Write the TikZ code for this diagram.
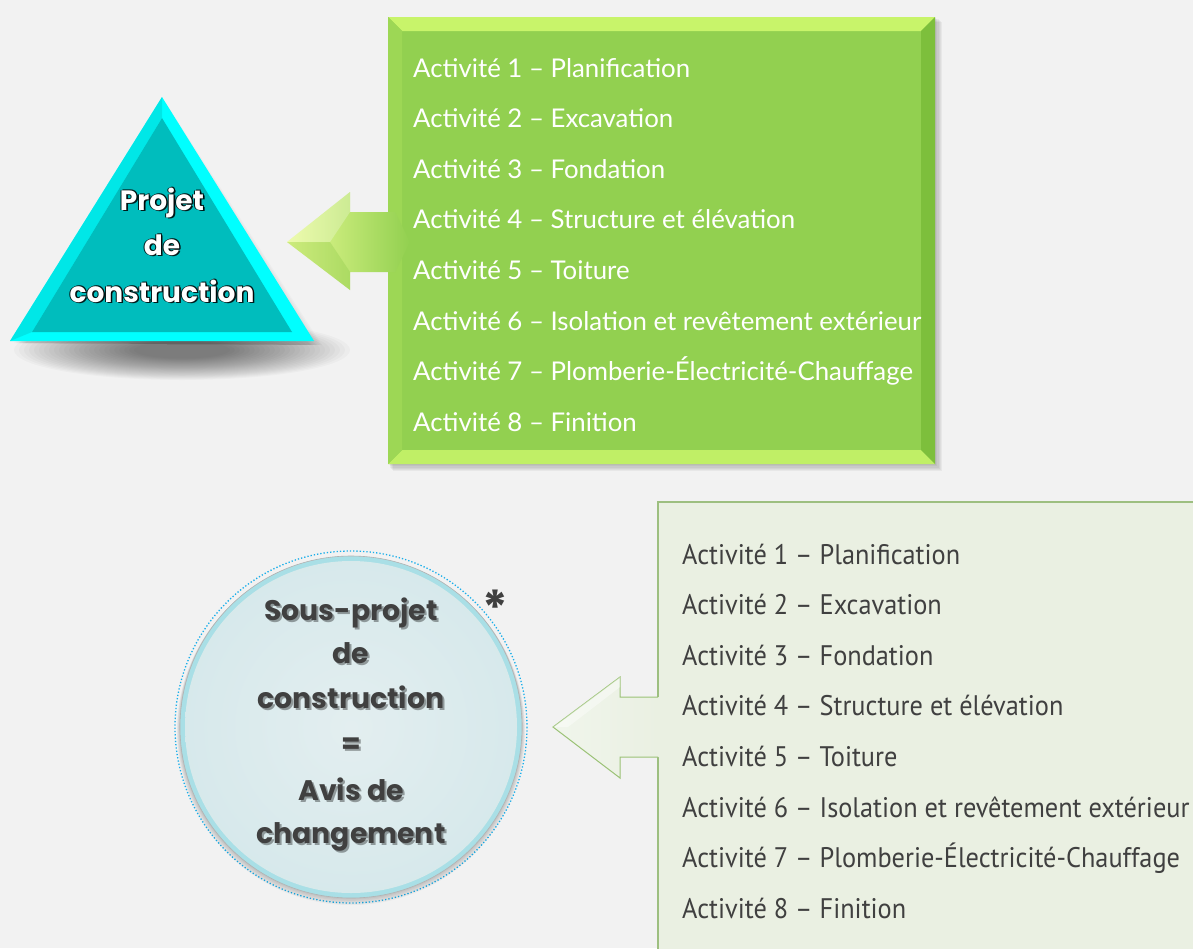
\documentclass[tikz,border=0pt]{standalone}
\usepackage{fontspec}
\newfontfamily\gothic{Poppins}
\newfontfamily\lista{Lato}
\newfontfamily\listb[FakeStretch=0.93]{PT Sans}
\definecolor{bg}{HTML}{F2F2F2}
\definecolor{teal1}{HTML}{00BDBD}
\definecolor{cyan1}{HTML}{00FFFF}
\definecolor{green1}{HTML}{92D050}
\definecolor{green2}{HTML}{C8F46A}
\definecolor{green3}{HTML}{7DBF3C}
\definecolor{pale}{HTML}{EAF0E2}
\definecolor{paleline}{HTML}{9DBF80}
\definecolor{circfill}{HTML}{DCEAEC}
\definecolor{circedge}{HTML}{A9DFE6}
\definecolor{dotblue}{HTML}{1AAEEA}
\definecolor{dark}{HTML}{404040}
\tikzset{
  toplist/.style={anchor=base west, inner sep=0pt, text=white, font=\lista\fontsize{25.8}{28}\selectfont},
  botlist/.style={anchor=base west, inner sep=0pt, text=dark, font=\listb\fontsize{28.3}{30}\selectfont},
  tritext/.style={anchor=base, inner sep=0pt, text=white, font=\gothic\bfseries\fontsize{28}{30}\selectfont},
  trishadow/.style={tritext, text=black, opacity=0.85},
  circtext/.style={anchor=base, inner sep=0pt, text=dark, font=\gothic\bfseries\fontsize{28.3}{30}\selectfont},
  circshadow/.style={circtext, text=black, opacity=0.35},
}
\begin{document}
\begin{tikzpicture}[x=1pt,y=-1pt]
\useasboundingbox (0,0) rectangle (1193,948);
\fill[bg] (0,0) rectangle (1193,948);

% ---------- top green box ----------
\foreach \i in {1,...,6} {
  \fill[black, opacity=0.045] (388+\i*0.8,17+\i*0.8) rectangle (935+\i*1.2,464+\i*1.2);
}
\fill[green1] (388,17) rectangle (935,464);
\fill[green2] (388,17) -- (935,17) -- (921,31) -- (402,31) -- cycle;
\fill[green2!85!green1] (388,464) -- (935,464) -- (921,450) -- (402,450) -- cycle;
\fill[green1!80!green2] (388,17) -- (402,31) -- (402,450) -- (388,464) -- cycle;
\fill[green3] (935,17) -- (921,31) -- (921,450) -- (935,464) -- cycle;
\coordinate (topbox) at (388,242);

% ---------- top arrow ----------
\path[left color=green2!70!yellow!60!white, right color=green1, draw=none]
  (287,242) -- (350,192) -- (350,212) -- (395,212) -- (410,242) -- (395,272) -- (350,272) -- (350,290) -- cycle;
\fill[white, opacity=0.25] (287,242) -- (350,192) -- (350,212) -- (330,242) -- cycle;
\fill[green3, opacity=0.25] (287,242) -- (330,242) -- (350,272) -- (350,290) -- cycle;

% ---------- triangle ----------
\foreach \i in {0,...,24} {
  \fill[black, opacity=0.022] (182,350) ellipse[x radius={168-\i*5}, y radius={30-\i*0.9}];
}
\foreach \i in {0,...,8} {
  \fill[black, opacity=0.02] (14+\i*1.5,343) -- (166,103+\i*1.5) -- (322-\i*1.5,345) -- cycle;
}
\fill[cyan1] (10,341) -- (162,97) -- (314,341) -- cycle;
\fill[teal1] (32,332) -- (162,118) -- (292,332) -- cycle;
\fill[teal1!70!cyan1, opacity=0.5] (10,341) -- (162,97) -- (162,118) -- (32,332) -- cycle;
\coordinate (tri) at (160,240);

\foreach \t/\y/\n in {Projet/210/a, de/255/b, construction/302/c} {
  \node[trishadow] (ts1\n) at (163.6,\y+1.6) {\t};
  \node[trishadow] (ts2\n) at (161,\y+0.8) {\t};
  \node[trishadow] (ts3\n) at (163,\y-0.8) {\t};
  \node[tritext] (tt\n) at (162,\y) {\t};
}

% top list
\node[toplist] (l1) at (413,77) {Activité 1 – Planification};
\node[toplist] (l2) at (413,127.6) {Activité 2 – Excavation};
\node[toplist] (l3) at (413,178.2) {Activité 3 – Fondation};
\node[toplist] (l4) at (413,228.8) {Activité 4 – Structure et élévation};
\node[toplist] (l5) at (413,279.4) {Activité 5 – Toiture};
\node[toplist] (l6) at (413,330) {Activité 6 – Isolation et revêtement extérieur};
\node[toplist] (l7) at (413,380.6) {Activité 7 – Plomberie-Électricité-Chauffage};
\node[toplist] (l8) at (413,431.2) {Activité 8 – Finition};

% ---------- bottom box ----------
\foreach \i in {1,...,4} {
  \fill[black, opacity=0.035] (658+\i*0.8,502+\i*0.8) rectangle (1210,960);
}
\fill[pale] (658,502) rectangle (1210,960);
\draw[paleline, line width=1.6pt] (1210,502) -- (658,502) -- (658,960);

% ---------- bottom arrow ----------
\path[left color=white!85!paleline, right color=pale]
  (553,727) -- (620,677) -- (620,697) -- (659,697) -- (659,757) -- (620,757) -- (620,778) -- cycle;
\draw[paleline!80!green1, line width=1pt, line join=miter]
  (658,697) -- (620,697) -- (620,677) -- (553,727) -- (620,778) -- (620,757) -- (658,757);
\fill[white, opacity=0.4] (553,727) -- (620,677) -- (620,687) -- (568,727) -- cycle;

% bottom list
\node[botlist] (m1) at (682,564) {Activité 1 – Planification};
\node[botlist] (m2) at (682,614.6) {Activité 2 – Excavation};
\node[botlist] (m3) at (682,665.2) {Activité 3 – Fondation};
\node[botlist] (m4) at (682,715.8) {Activité 4 – Structure et élévation};
\node[botlist] (m5) at (682,766.4) {Activité 5 – Toiture};
\node[botlist] (m6) at (682,817) {Activité 6 – Isolation et revêtement extérieur};
\node[botlist] (m7) at (682,867.6) {Activité 7 – Plomberie-Électricité-Chauffage};
\node[botlist] (m8) at (682,918.2) {Activité 8 – Finition};

% ---------- circle ----------
\draw[dotblue, dotted, line width=1.3pt] (351,727) circle[radius=176];
\foreach \i in {1,...,5} {
  \fill[black, opacity=0.04] (351,727+\i*0.8) circle[radius=171+\i*0.6];
}
\fill[circedge] (351,727) circle[radius=171];
\shade[inner color=circfill!80!white, outer color=circfill!90!circedge] (351,727) circle[radius=166];
\draw[gray!60, line width=0.6pt] (351,727) circle[radius=171];
\coordinate (circ) at (351,727);

\foreach \t/\y/\n in {Sous-projet/620/a, de/663/b, construction/708/c, =/753/d, Avis de/800/e, changement/843/f} {
  \node[circshadow] (cs\n) at (353,\y+2.5) {\t};
  \node[circtext] (ct\n) at (351,\y) {\t};
}
\node[inner sep=0pt, text=dark, font=\gothic\bfseries\fontsize{48}{48}\selectfont] (star) at (495,608) {*};

\end{tikzpicture}
\end{document}
